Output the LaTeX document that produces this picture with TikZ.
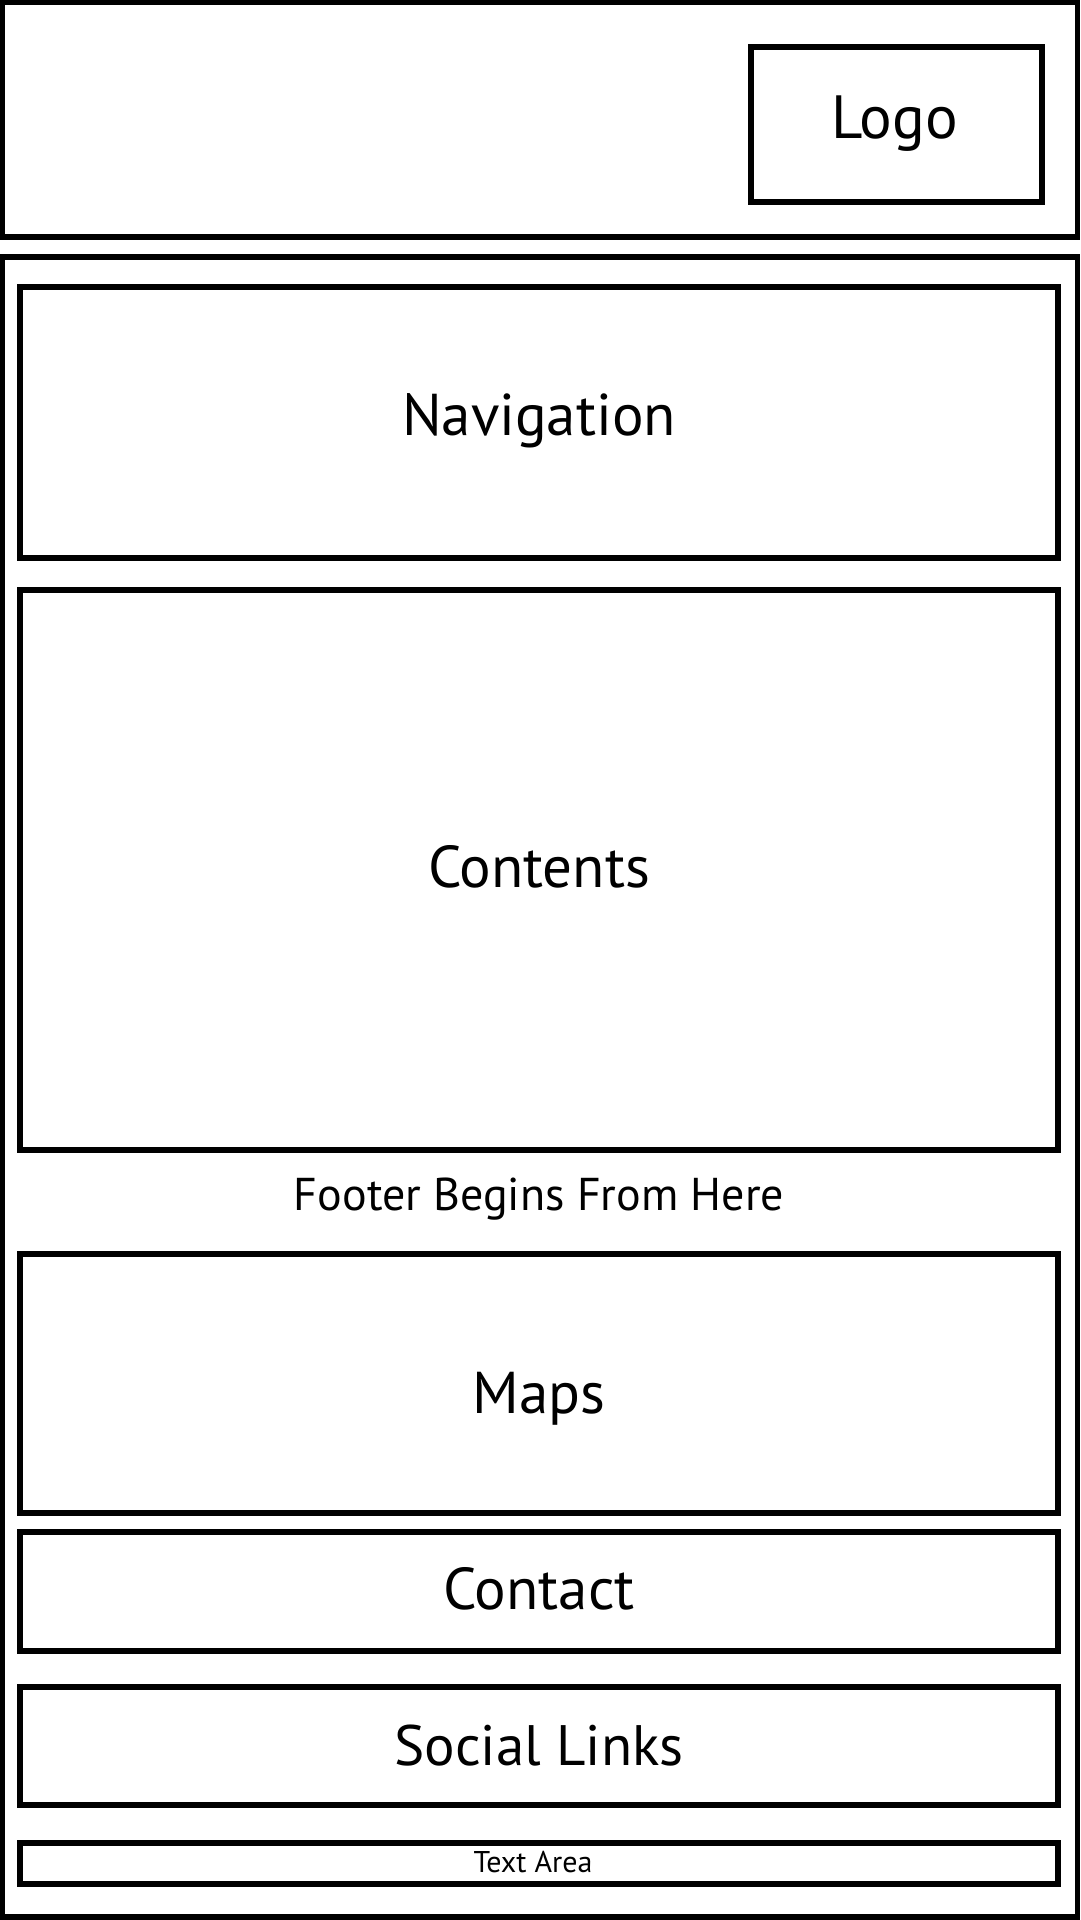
\documentclass[tikz,border=0pt]{standalone}
\usepackage{fontspec}
\setmainfont{PT Sans}
\begin{document}
\begin{tikzpicture}[x=1pt,y=-1pt,
  box/.style={draw=black, line width=5.5pt, rectangle, inner sep=0pt, outer sep=0pt, fill=none},
  big/.style={font=\fontsize{59}{66}\selectfont},
  mid/.style={font=\fontsize{46}{54}\selectfont},
  small/.style={font=\fontsize{30}{34}\selectfont}]
\useasboundingbox[fill=white] (0,0) rectangle (1080,1920);
% header
\node[box, minimum width=1075pt, minimum height=234.5pt] (header) at (540,119.75) {};
\node[box, minimum width=291pt, minimum height=155pt] (logo) at (896.5,124.5) {};
\node[big, font=\fontsize{61}{68}\selectfont] (logotext) at (895,124) {Logo};
% body
\node[box, minimum width=1075pt, minimum height=1660pt] (body) at (540,1087) {};
\node[box, minimum width=1038pt, minimum height=271pt] (nav) at (539,422.5) {};
\node[big] (navtext) at (539,421) {Navigation};
\node[box, minimum width=1038pt, minimum height=560pt] (contents) at (539,870) {};
\node[big] (contentstext) at (539,867) {Contents};
\node[mid] (footer) at (539,1199) {Footer Begins From Here};
\node[box, minimum width=1038pt, minimum height=259pt] (maps) at (539,1383.5) {};
\node[big] (mapstext) at (539,1399) {Maps};
\node[box, minimum width=1038pt, minimum height=119pt] (contact) at (539,1591.5) {};
\node[big] (contacttext) at (539,1589) {Contact};
\node[box, minimum width=1038pt, minimum height=118pt] (social) at (539,1746) {};
\node[big, font=\fontsize{57}{64}\selectfont] (socialtext) at (539,1746) {Social Links};
\node[box, minimum width=1038pt, minimum height=41pt] (textarea) at (539,1863.5) {};
\node[small] (tatext) at (533,1862) {Text Area};
\end{tikzpicture}
\end{document}
